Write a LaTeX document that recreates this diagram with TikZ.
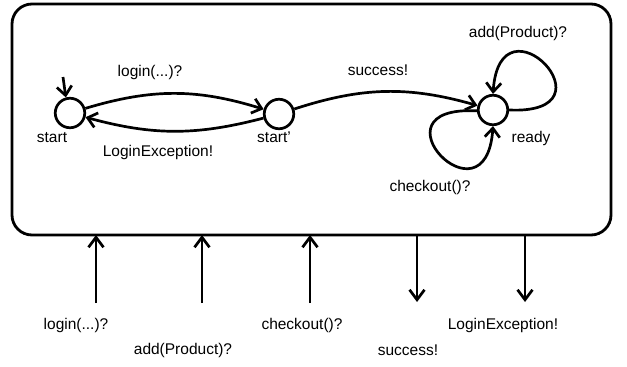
\documentclass[tikz,border=0pt]{standalone}
\usepackage{fontspec}
\setmainfont{Liberation Sans}
\usetikzlibrary{arrows.meta}
\begin{document}
\begin{tikzpicture}[x=1pt,y=1pt,
  every node/.style={font=\fontsize{15.5}{17}\selectfont},
  state/.style={draw, circle, line width=2.7pt, minimum size=29.5pt, inner sep=0pt},
  lbl/.style={inner sep=0pt, anchor=center},
  arr/.style={line width=2.7pt, -{Straight Barb[length=9pt,width=15pt,line width=2.7pt]}},
  io/.style={line width=2.7pt, -{Straight Barb[length=10pt,width=15pt,line width=2.7pt]}}]
\useasboundingbox (0,0) rectangle (627,-367);
\draw[line width=2.8pt, rounded corners=20pt] (12,-4) rectangle (611,-235);
% states
\node[state] (start) at (70,-113) {};
\node[state] (startp) at (279,-114) {};
\node[state] (ready) at (493,-110) {};
\node[lbl] (lstart) at (52,-138) {start};
\node[lbl] (lstartp) at (274,-137) {start'};
\node[lbl] (lready) at (531,-138) {ready};
% initial
\coordinate (init) at (63,-77);
\draw[arr] (init) -- (start.105);
% transitions
\draw[arr] (start) to[bend left=17] (startp);
\draw[arr] (startp) to[bend left=15] (start);
\draw[arr] (startp) to[bend left=17] (ready);
\draw[arr] (ready.east) .. controls (620,-115) and (500,10) .. (ready.north);
\draw[arr] (ready.183) .. controls (366,-105) and (486,-230) .. (ready.south);
\node[lbl] (tlogin) at (150,-72) {login(...)?};
\node[lbl] (texc) at (158,-152) {LoginException!};
\node[lbl] (tsucc) at (378,-70) {success!};
\node[lbl] (tadd) at (518,-33) {add(Product)?};
\node[lbl] (tcheck) at (430,-187) {checkout()?};
% interface arrows
\coordinate (b1) at (96,-303);  \coordinate (t1) at (96,-235);
\coordinate (b2) at (202,-303); \coordinate (t2) at (202,-235);
\coordinate (b3) at (310,-303); \coordinate (t3) at (310,-235);
\coordinate (t4) at (417,-235); \coordinate (b4) at (417,-302);
\coordinate (t5) at (525,-235); \coordinate (b5) at (525,-302);
\draw[io] (b1) -- (t1);
\draw[io] (b2) -- (t2);
\draw[io] (b3) -- (t3);
\draw[io] (t4) -- (b4);
\draw[io] (t5) -- (b5);
\node[lbl] (ilogin) at (76,-325) {login(...)?};
\node[lbl] (iadd) at (183,-350) {add(Product)?};
\node[lbl] (icheck) at (302,-325) {checkout()?};
\node[lbl] (isucc) at (408,-350) {success!};
\node[lbl] (iexc) at (503,-325) {LoginException!};
\end{tikzpicture}
\end{document}
